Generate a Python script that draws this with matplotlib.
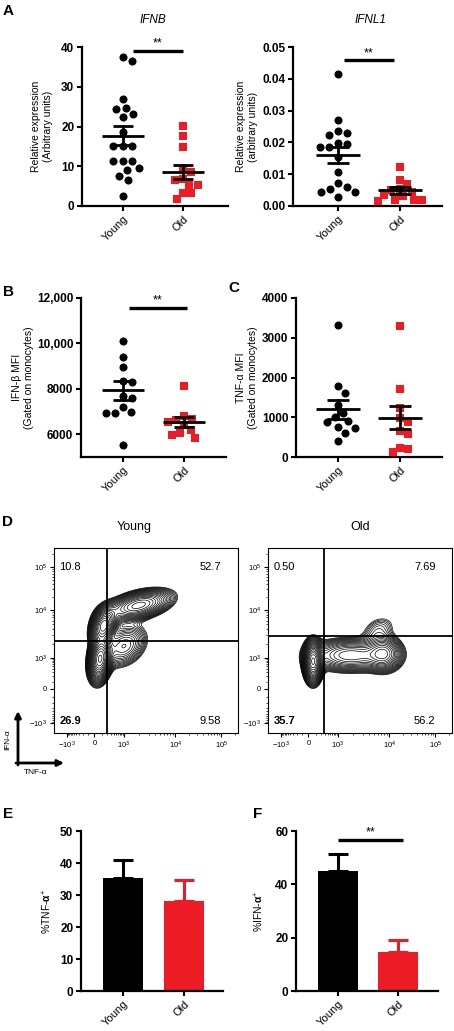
import numpy as np
import matplotlib.pyplot as plt

plt.rcParams['font.family'] = ['Liberation Sans', 'DejaVu Sans']
plt.rcParams['mathtext.fontset'] = 'custom'
plt.rcParams['mathtext.rm'] = 'Liberation Sans'
plt.rcParams['mathtext.it'] = 'Liberation Sans:italic'
plt.rcParams['mathtext.bf'] = 'Liberation Sans:bold'

W, H = 454, 1031
RED = '#ED1C24'
groups = ['Young', 'Old']

# ---- data ----
# A: IFNB / IFNL1 relative expression
ifnb_young = [37.6, 36.6, 27.0, 24.7, 24.3, 23.1, 22.4, 18.7, 15.0, 15.0, 15.0,
              11.2, 11.2, 11.2, 9.5, 9.0, 7.5, 6.5, 2.5]
ifnb_old = [20.1, 17.7, 14.9, 9.0, 8.6, 6.7, 6.5, 5.3, 5.3, 3.3, 3.2, 1.7]
ifnb_mean = [17.7, 8.5]
ifnb_sem = [2.4, 1.8]

ifnl1_young = [0.0414, 0.027, 0.0236, 0.0228, 0.0223, 0.0199, 0.0195, 0.0186, 0.0186,
               0.0155, 0.0106, 0.0071, 0.0061, 0.0053, 0.0045, 0.0045, 0.0029]
ifnl1_old = [0.0123, 0.0082, 0.0068, 0.0055, 0.0050, 0.0045, 0.0035, 0.0030,
             0.0020, 0.0019, 0.0018, 0.0017]
ifnl1_mean = [0.0160, 0.0049]
ifnl1_sem = [0.0026, 0.0010]

# B: IFN-beta MFI
ifnb_mfi_young = [10120, 9390, 8950, 8360, 8290, 7700, 7600, 7200, 7000, 6950, 6920, 5540]
ifnb_mfi_old = [8146, 6800, 6652, 6622, 6548, 6400, 6178, 6059, 5956, 5852]
ifnb_mfi_mean = [7930, 6530]
ifnb_mfi_sem = [420, 230]

# C: TNF-alpha MFI
tnf_mfi_young = [3316, 1786, 1615, 1300, 1100, 1000, 900, 870, 750, 720, 600, 400]
tnf_mfi_old = [3300, 1700, 1240, 970, 875, 650, 570, 230, 210, 125]
tnf_mfi_mean = [1200, 990]
tnf_mfi_sem = [240, 290]

# D: flow plots, density blobs (cx, cy, sx, sy, rho, weight) in channel units
young_blobs = np.array([
    [0.25, 0.40, 0.030, 0.060, 0.2, 1.00],
    [0.27, 0.58, 0.035, 0.050, 0.3, 0.80],
    [0.46, 0.69, 0.090, 0.042, 0.45, 0.50],
    [0.38, 0.47, 0.065, 0.060, 0.3, 0.22],
])
old_blobs = np.array([
    [0.245, 0.385, 0.025, 0.055, 0.0, 1.00],
    [0.45, 0.42, 0.120, 0.045, 0.0, 0.35],
    [0.63, 0.43, 0.050, 0.050, 0.0, 0.35],
    [0.60, 0.56, 0.055, 0.045, 0.3, 0.07],
])
young_quads = ['10.8', '52.7', '26.9', '9.58']
old_quads = ['0.50', '7.69', '35.7', '56.2']
flow_tick_labels = [r'$-10^3$', '0', r'$10^3$', r'$10^4$', r'$10^5$']
flow_xticks = [0.07, 0.22, 0.38, 0.66, 0.91]
flow_yticks = [0.054, 0.238, 0.405, 0.665, 0.897]

# E / F: bar charts (mean, SEM)
tnf_pct = [35.3, 28.1]
tnf_pct_sem = [5.7, 6.6]
ifna_pct = [45.0, 14.6]
ifna_pct_sem = [6.4, 4.5]

fig = plt.figure(figsize=(W / 100, H / 100), dpi=100)

# overlay for free text and arrows, in pixel coordinates
ov = fig.add_axes([0, 0, 1, 1])
ov.set_xlim(0, W)
ov.set_ylim(H, 0)
ov.axis('off')


def add_ax(x0, top, x1, bottom):
    ax = fig.add_axes([x0 / W, 1 - bottom / H, (x1 - x0) / W, (bottom - top) / H])
    ax.box_px = (x1 - x0, bottom - top)
    return ax


def style_axes(ax, xlim, ylim, yticks, yticklabels):
    ax.set_xlim(*xlim)
    ax.set_ylim(*ylim)
    for s in ['top', 'right']:
        ax.spines[s].set_visible(False)
    for s in ['left', 'bottom']:
        ax.spines[s].set_linewidth(1.6)
    ax.set_yticks(yticks)
    ax.set_yticklabels(yticklabels, fontsize=8.5, fontweight='bold')
    ax.set_xticks([0, 1])
    ax.set_xticklabels(groups, rotation=45, ha='right', rotation_mode='anchor', fontsize=8)
    ax.tick_params(axis='both', length=3.5, width=1.5, direction='out', pad=2)


def swarm(vals, ax, d=9.5):
    wpx, hpx = ax.box_px
    x0, x1 = ax.get_xlim()
    y0, y1 = ax.get_ylim()
    ppx = wpx / (x1 - x0)
    ppy = hpx / (y1 - y0)
    vals = np.asarray(vals, float)
    order = np.argsort(vals)[::-1]
    placed = []
    offs = np.zeros(len(vals))
    for i in order:
        y = vals[i] * ppy
        cands = [0.0]
        for xj, yj in placed:
            dy = y - yj
            if abs(dy) < d:
                dx = np.sqrt(d * d - dy * dy)
                cands += [xj + dx, xj - dx]
        cands = sorted(cands, key=lambda c: (abs(c), -c))
        for c in cands:
            if all((c - xj) ** 2 + (y - yj) ** 2 >= d * d - 1e-6 for xj, yj in placed):
                break
        offs[i] = c / ppx
        placed.append((c, y))
    return offs


def dot_panel(ax, young, old, mean, sem):
    oy = swarm(young, ax, 9.5)
    oo = swarm(old, ax, 8.5)
    ax.plot(0 + oy, young, 'o', color='k', ms=5.8, mew=0, clip_on=False, zorder=3)
    ax.plot(1 + oo, old, 's', color=RED, ms=5.3, mew=0, clip_on=False, zorder=3)
    for i in range(2):
        ax.plot([i - 0.35, i + 0.35], [mean[i]] * 2, color='k', lw=2, zorder=4, solid_capstyle='butt')
        ax.plot([i, i], [mean[i] - sem[i], mean[i] + sem[i]], color='k', lw=2, zorder=4)
        for e in (-1, 1):
            ax.plot([i - 0.17, i + 0.17], [mean[i] + e * sem[i]] * 2, color='k', lw=2, zorder=4,
                    solid_capstyle='butt')


def sig_bar(ax, xa, xb, y):
    ax.plot([xa, xb], [y, y], color='k', lw=2.4, solid_capstyle='butt', clip_on=False)
    ax.annotate('**', xy=((xa + xb) / 2, y), xytext=(0, 1), textcoords='offset points',
                ha='center', va='bottom', fontsize=9, annotation_clip=False)


# ---- A ----
ax = add_ax(82, 47, 228, 206)
style_axes(ax, (-0.683, 1.75), (0, 40), [0, 10, 20, 30, 40], ['0', '10', '20', '30', '40'])
dot_panel(ax, ifnb_young, ifnb_old, ifnb_mean, ifnb_sem)
sig_bar(ax, 0.17, 1.0, 39.0)
ax.set_ylabel('Relative expression\n(Arbitrary units)', fontsize=7.5)
ax.yaxis.set_label_coords(-0.2, 0.5)

ax = add_ax(293, 47, 442, 206)
style_axes(ax, (-0.726, 1.677), (0, 0.05), [0, 0.01, 0.02, 0.03, 0.04, 0.05],
           ['0.00', '0.01', '0.02', '0.03', '0.04', '0.05'])
dot_panel(ax, ifnl1_young, ifnl1_old, ifnl1_mean, ifnl1_sem)
sig_bar(ax, 0.1, 0.9, 0.0458)
ax.set_ylabel('Relative expression\n(arbitrary units)', fontsize=7.5)
ax.yaxis.set_label_coords(-0.235, 0.5)

# ---- B ----
ax = add_ax(81, 298, 226, 457)
style_axes(ax, (-0.69, 1.69), (5000, 12000), [6000, 8000, 10000, 12000],
           ['6000', '8000', '10,000', '12,000'])
dot_panel(ax, ifnb_mfi_young, ifnb_mfi_old, ifnb_mfi_mean, ifnb_mfi_sem)
sig_bar(ax, 0.1, 1.05, 11550)
ax.set_ylabel('IFN-β MFI\n(Gated on monocytes)', fontsize=7.5)
ax.yaxis.set_label_coords(-0.324, 0.5)

# ---- C ----
ax = add_ax(296, 298, 442, 457)
style_axes(ax, (-0.677, 1.677), (0, 4000), [0, 1000, 2000, 3000, 4000],
           ['0', '1000', '2000', '3000', '4000'])
dot_panel(ax, tnf_mfi_young, tnf_mfi_old, tnf_mfi_mean, tnf_mfi_sem)
ax.set_ylabel('TNF-α MFI\n(Gated on monocytes)', fontsize=7.5)
ax.yaxis.set_label_coords(-0.26, 0.5)


# ---- D ----
def biex_minor(major):
    pos = []
    for a, b in [(major[1], major[0]), (major[1], major[2])]:
        for v in range(100, 1000, 100):
            pos.append(a + (b - a) * np.arcsinh(v / 150) / np.arcsinh(1000 / 150))
    for k in (2, 3):
        for m in range(2, 10):
            pos.append(major[k] + (major[k + 1] - major[k]) * np.log10(m))
    for m in range(2, 5):
        pos.append(major[4] + (major[4] - major[3]) * np.log10(m))
    return [p for p in pos if 0 <= p <= 1]


def flow_panel(ax, blobs, xg, yg, quads):
    g = np.linspace(0, 1, 300)
    X, Y = np.meshgrid(g, g)
    Z = np.zeros_like(X)
    for cx, cy, sx, sy, rho, w in blobs:
        dx = (X - cx) / sx
        dy = (Y - cy) / sy
        Z += w * np.exp(-(dx * dx - 2 * rho * dx * dy + dy * dy) / (2 * (1 - rho * rho)))
    levels = Z.max() * np.geomspace(0.03, 0.95, 24)
    ax.contour(X, Y, Z, levels=levels, colors='k', linewidths=0.5)
    ax.axvline(xg, color='k', lw=1.3)
    ax.axhline(yg, color='k', lw=1.3)
    ax.set_xlim(0, 1)
    ax.set_ylim(0, 1)
    for s in ax.spines.values():
        s.set_linewidth(0.8)
    ax.set_xticks(flow_xticks)
    ax.set_yticks(flow_yticks)
    ax.set_xticklabels(flow_tick_labels, fontsize=5.5)
    ax.set_yticklabels(flow_tick_labels, fontsize=5.5)
    ax.set_xticks(biex_minor(flow_xticks), minor=True)
    ax.set_yticks(biex_minor(flow_yticks), minor=True)
    ax.tick_params(which='major', length=3, width=0.8, direction='out', pad=2)
    ax.tick_params(which='minor', length=1.6, width=0.5, direction='out')
    ax.text(0.03, 0.9, quads[0], fontsize=8, va='center', ha='left')
    ax.text(0.91, 0.9, quads[1], fontsize=8, va='center', ha='right')
    ax.text(0.03, 0.065, quads[2], fontsize=8, va='center', ha='left', fontweight='bold')
    ax.text(0.91, 0.065, quads[3], fontsize=8, va='center', ha='right')


ax = add_ax(54, 548, 238, 733)
flow_panel(ax, young_blobs, 0.288, 0.497, young_quads)
ax = add_ax(268, 548, 452, 733)
flow_panel(ax, old_blobs, 0.304, 0.524, old_quads)

ov.text(134, 527, 'Young', fontsize=9, ha='center', va='center')
ov.text(360, 527, 'Old', fontsize=9, ha='center', va='center')

ov.annotate('', xy=(18, 711), xytext=(18, 765),
            arrowprops=dict(arrowstyle='-|>', lw=2, color='k', mutation_scale=9,
                            shrinkA=0, shrinkB=0))
ov.annotate('', xy=(64, 763), xytext=(16, 763),
            arrowprops=dict(arrowstyle='-|>', lw=2, color='k', mutation_scale=9,
                            shrinkA=0, shrinkB=0))
ov.text(8, 740, 'IFN-α', fontsize=6, rotation=90, ha='center', va='center')
ov.text(36, 772, 'TNF-α', fontsize=6, ha='center', va='center')


# ---- E / F ----
def bar_panel(ax, vals, sems):
    cols = ['k', RED]
    ax.bar([0, 1], vals, width=0.67, color=cols, zorder=2)
    for i in range(2):
        ax.errorbar(i, vals[i], yerr=[[0], [sems[i]]], fmt='none', ecolor=cols[i],
                    elinewidth=2.2, capsize=7, capthick=2.2, zorder=1)


ax = add_ax(81, 831, 223, 991)
style_axes(ax, (-0.69, 1.64), (0, 50), [0, 10, 20, 30, 40, 50], ['0', '10', '20', '30', '40', '50'])
bar_panel(ax, tnf_pct, tnf_pct_sem)
ax.set_ylabel(r'%TNF-$\mathbf{\alpha}^{+}$', fontsize=7.5)
ax.yaxis.set_label_coords(-0.19, 0.5)

ax = add_ax(296, 831, 438, 991)
style_axes(ax, (-0.7, 1.67), (0, 60), [0, 20, 40, 60], ['0', '20', '40', '60'])
bar_panel(ax, ifna_pct, ifna_pct_sem)
sig_bar(ax, 0.0, 1.08, 56.6)
ax.set_ylabel(r'%IFN-$\mathbf{\alpha}^{+}$', fontsize=7.5)
ax.yaxis.set_label_coords(-0.21, 0.5)

# ---- titles and panel letters ----
ov.text(153, 20, 'IFNB', fontsize=8.5, style='italic', ha='center', va='center')
ov.text(370, 20, 'IFNL1', fontsize=8.5, style='italic', ha='center', va='center')
for lab, x, y in [('A', 3, 11), ('B', 3, 292), ('C', 228, 288), ('D', 2, 522),
                  ('E', 3, 814), ('F', 253, 814)]:
    ov.text(x, y, lab, fontsize=11, fontweight='bold', ha='left', va='center')

fig.savefig('out.png', dpi=100)
